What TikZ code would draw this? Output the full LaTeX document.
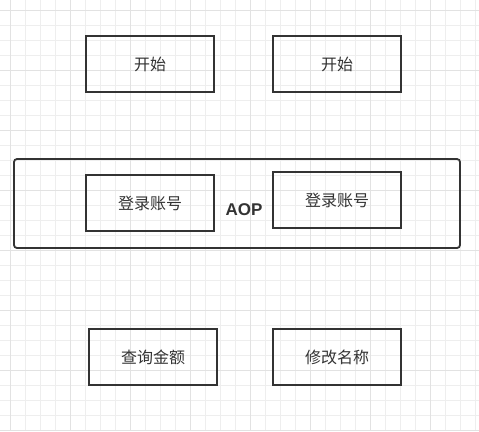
\documentclass[tikz,border=0pt]{standalone}
\usepackage{fontspec}
\newfontfamily\cjkfont{Noto Sans CJK SC}
\newfontfamily\aopfont{Liberation Sans}
\usetikzlibrary{positioning}
\definecolor{inkgrey}{HTML}{333333}
\definecolor{gridminor}{HTML}{EEEEEE}
\definecolor{gridmajor}{HTML}{E2E2E2}
\tikzset{
  stepbox/.style={draw=inkgrey, line width=1.8pt, minimum width=128pt, minimum height=56pt,
    inner sep=0pt, font=\cjkfont\fontsize{16pt}{18pt}\selectfont, text=inkgrey},
  aopframe/.style={draw=inkgrey, line width=1.8pt, rounded corners=3pt, minimum width=446pt,
    minimum height=89pt, inner sep=0pt},
}
\begin{document}
\begin{tikzpicture}[x=1pt,y=-1pt]
    \useasboundingbox (0,0) rectangle (479,431);
    \fill [white] (0,0) rectangle (479,431);
    % grid
    \foreach \g in {10,25,...,475}
      \draw [gridminor, line width=0.8pt] (\g,0) to (\g,431);
    \foreach \g in {10,25,...,430}
      \draw [gridminor, line width=0.8pt] (0,\g) to (479,\g);
    \foreach \g in {10,70,...,470}
      \draw [gridmajor, line width=0.8pt] (\g,0) to (\g,431);
    \foreach \g in {10,70,...,430}
      \draw [gridmajor, line width=0.8pt] (0,\g) to (479,\g);
    \node [aopframe] (aop) at (237,203.5) {};
    \node [stepbox] (start1) at (150,64) {开始};
    \node [stepbox] (start2) at (337,64) {开始};
    \node [stepbox] (login1) at (150,203) {登录账号};
    \node [stepbox] (login2) at (337,200) {登录账号};
    \node [text=inkgrey, font=\aopfont\bfseries\fontsize{17pt}{19pt}\selectfont] (aoplabel) at (244,210) {AOP};
    \node [stepbox] (query) at (153,357) {查询金额};
    \node [stepbox] (rename) at (337,357) {修改名称};
\end{tikzpicture}
\end{document}
